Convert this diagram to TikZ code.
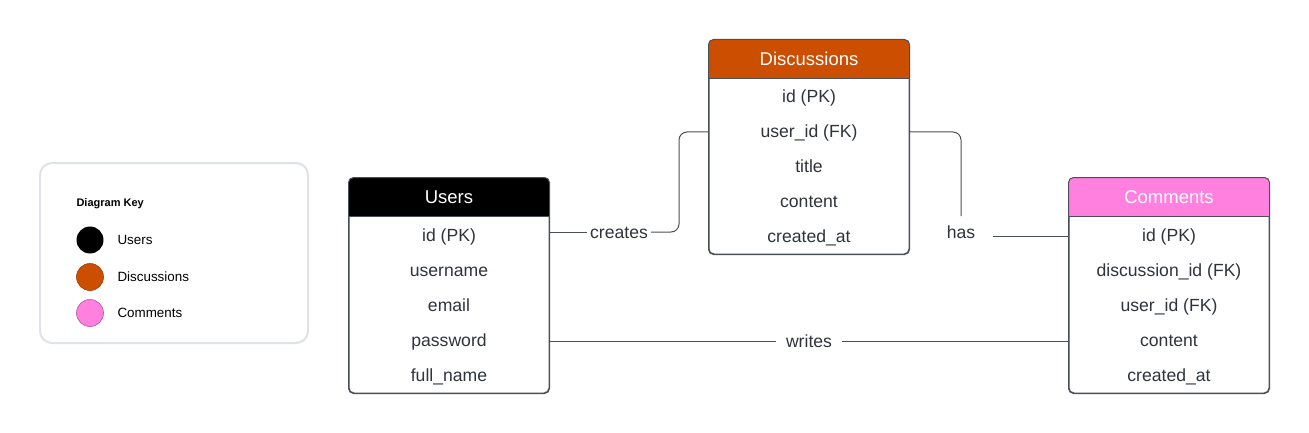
\documentclass[tikz,border=0pt]{standalone}
\usepackage{fontspec}
\setmainfont{Liberation Sans}
\definecolor{linegray}{HTML}{4B5058}
\definecolor{textgray}{HTML}{2F343B}
\definecolor{keygray}{HTML}{DFE2E7}
\definecolor{discorange}{HTML}{CC4E00}
\definecolor{commpink}{HTML}{FF80DF}
\tikzset{
  tablebox/.style={draw=linegray, line width=1pt, rounded corners=5pt, minimum width=200pt, minimum height=215pt, inner sep=0pt},
  headtext/.style={text=white, font=\fontsize{18.5}{21}\selectfont, text height=13pt, text depth=4pt, yshift=-1.5pt},
  fieldtext/.style={text=textgray, font=\fontsize{17.6}{20}\selectfont, text height=12.5pt, text depth=3.5pt, yshift=-1.5pt},
  reltext/.style={text=textgray, font=\fontsize{17.6}{20}\selectfont, inner sep=3pt, text height=12.5pt, text depth=3.5pt, yshift=-1.5pt},
  relline/.style={draw=linegray, line width=1pt},
  keydot/.style={circle, minimum size=27pt, inner sep=0pt},
  keytext/.style={anchor=west, text=black, font=\fontsize{13.4}{15}\selectfont, text height=9.5pt, text depth=2.5pt, yshift=-1pt}
}
% header band of a table, clipped to the rounded outline
\def\tablehead#1#2{\begin{scope}
    \clip[rounded corners=5pt] (#1.north west) rectangle (#1.south east);
    \fill[#2] (#1.north west) rectangle ([yshift=-39pt]#1.north east);
  \end{scope}
  \draw[relline] ([yshift=-39pt]#1.north west) -- ([yshift=-39pt]#1.north east);}

\begin{document}
\begin{tikzpicture}[x=1pt, y=-1pt]
  \useasboundingbox[fill=white] (0,0) rectangle (1309,433);

  % diagram key
  \draw[keygray, line width=2pt, rounded corners=12pt] (40,163) rectangle (308,343);
  \node[anchor=west, font=\fontsize{11}{13}\selectfont\bfseries] (keytitle) at (73,204) {Diagram Key};
  \node[keydot, fill=black] (key-users) at (90,240) {};
  \node[keydot, fill=discorange, draw=discorange!80!black, line width=0.6pt] (key-disc) at (90,277) {};
  \node[keydot, fill=commpink, draw=commpink!70!black, line width=0.6pt] (key-comm) at (90,313) {};
  \node[keytext] (key-users-t) at (114,240) {Users};
  \node[keytext] (key-disc-t) at (114,277) {Discussions};
  \node[keytext] (key-comm-t) at (114,313) {Comments};

  % users
  \node[tablebox] (users) at (449,285.5) {};
  \tablehead{users}{black}
  \draw[tablebox] (users.north west) rectangle (users.south east);
  \node[headtext] (users-title) at (449,197.5) {Users};
  \foreach \f [count=\i] in {id (PK), username, email, password, full\_name}
    \node[fieldtext] (users-\i) at (449,201+34.8*\i) {\f};

  % discussions
  \node[tablebox, minimum height=214pt] (disc) at (809,147) {};
  \tablehead{disc}{discorange}
  \draw[tablebox] (disc.north west) rectangle (disc.south east);
  \node[headtext] (disc-title) at (809,59.5) {Discussions};
  \foreach \f [count=\i] in {id (PK), user\_id (FK), title, content, created\_at}
    \node[fieldtext] (disc-\i) at (809,62+34.8*\i) {\f};

  % comments
  \node[tablebox] (comm) at (1169,285.5) {};
  \tablehead{comm}{commpink}
  \draw[tablebox] (comm.north west) rectangle (comm.south east);
  \node[headtext] (comm-title) at (1169,197.5) {Comments};
  \foreach \f [count=\i] in {id (PK), discussion\_id (FK), user\_id (FK), content, created\_at}
    \node[fieldtext] (comm-\i) at (1169,201+34.8*\i) {\f};

  % relations
  \node[reltext] (creates) at (619,232) {creates};
  \coordinate (creates-bend) at (679,132);
  \draw[relline] (users.east |- 0,232) -- (creates.west |- 0,232);
  \draw[relline, rounded corners=8pt] (creates.east |- 0,232) -| (creates-bend) -- (disc.west |- creates-bend);

  \node[reltext] (has) at (961,232) {has};
  \coordinate (has-top) at (961,132);
  \coordinate (has-end) at (961,216);
  \coordinate (has-start) at (993,236);
  \draw[relline, rounded corners=8pt] (disc.east |- has-top) -- (has-top) -- (has-end);
  \draw[relline] (has-start) -- (comm.west |- has-start);

  \node[reltext, inner xsep=10pt] (writes) at (809,341) {writes};
  \draw[relline] (users.east |- 0,341) -- (writes.west |- 0,341);
  \draw[relline] (writes.east |- 0,341) -- (comm.west |- 0,341);
\end{tikzpicture}
\end{document}
